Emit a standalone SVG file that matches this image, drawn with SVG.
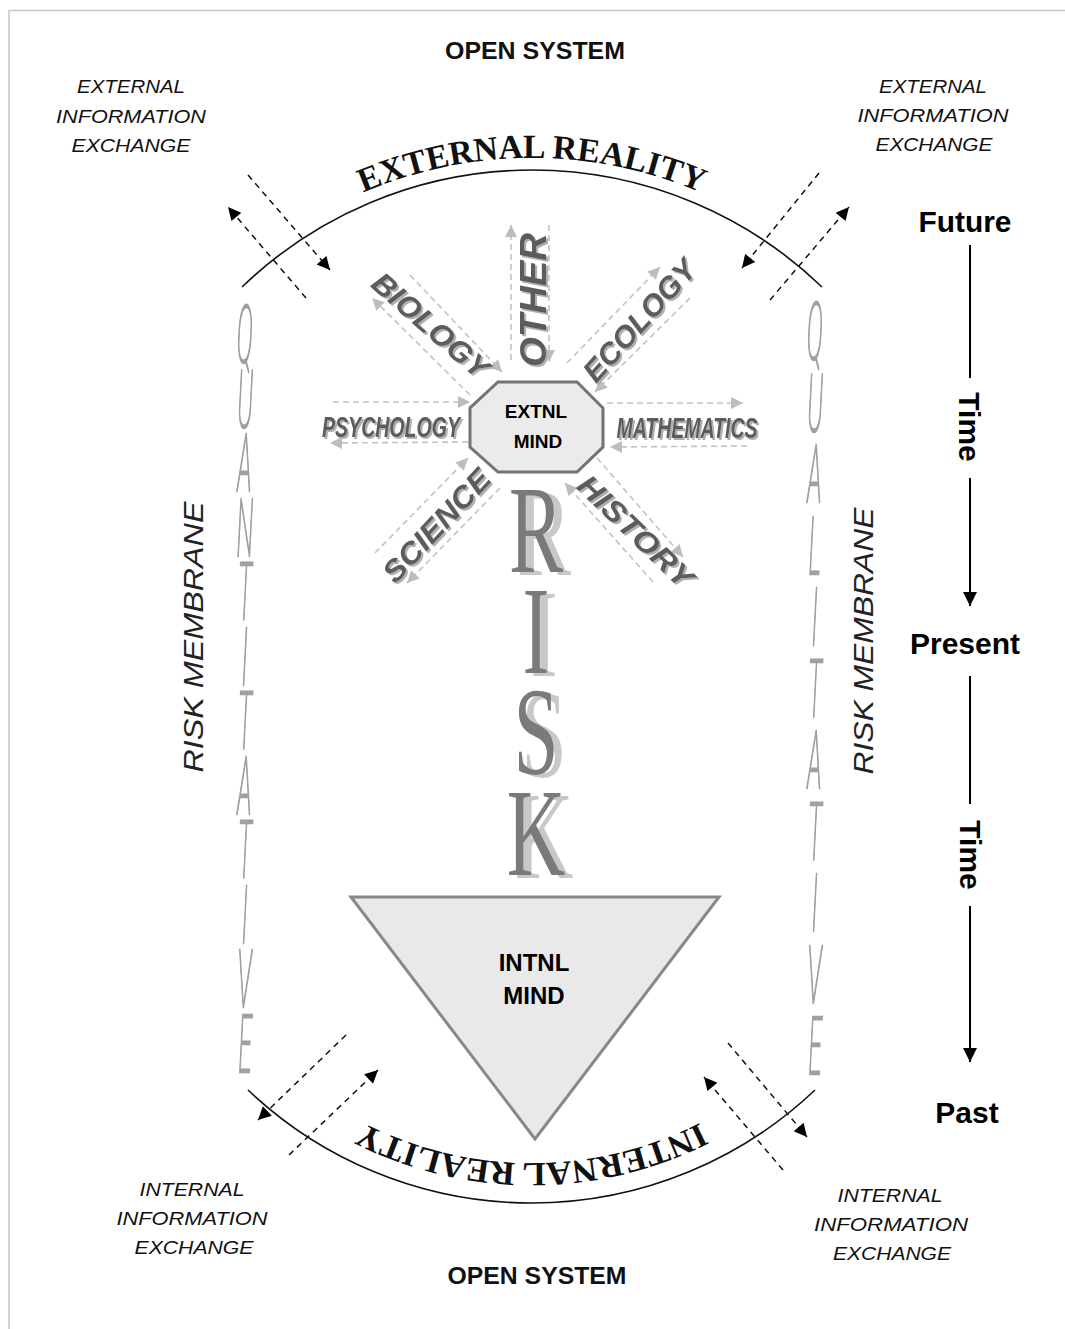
<svg xmlns="http://www.w3.org/2000/svg" width="1065" height="1329" viewBox="0 0 1065 1329">
<defs>
<style>
.os{font-family:"Liberation Sans",Arial,sans-serif;font-weight:bold;font-size:24px;text-anchor:middle;fill:#111}
.ie{font-family:"Liberation Sans",Arial,sans-serif;font-style:italic;font-size:19px;text-anchor:middle;fill:#111}
.rm{font-family:"Liberation Sans",Arial,sans-serif;font-style:italic;font-size:28px;text-anchor:middle;fill:#222}
.real{font-family:"Liberation Serif","Times New Roman",serif;font-weight:bold;font-size:34px;fill:#111}
.q{font-family:Roboto,Inter,"Liberation Sans",sans-serif;font-weight:100;font-style:italic;font-size:80px;fill:#a0a0a0;stroke:#a0a0a0;stroke-width:2;vector-effect:non-scaling-stroke;writing-mode:vertical-rl;text-orientation:upright}
.risk{font-family:"Liberation Serif","Times New Roman",serif;font-size:125px;fill:#7a7a7a;writing-mode:vertical-rl;text-orientation:upright}
.lab{font-family:"Liberation Sans",Arial,sans-serif;font-weight:bold;font-style:italic;text-anchor:middle;fill:#5c5c5c}
.tm{font-family:"Liberation Sans",Arial,sans-serif;font-weight:bold;font-size:30px;text-anchor:middle;fill:#000}
.mind{font-family:"Liberation Sans",Arial,sans-serif;font-weight:bold;text-anchor:middle;fill:#000}
.dk{fill:none;stroke:#111;stroke-width:1.5;stroke-dasharray:6 5}
.gl{fill:none;stroke:#c2c2c2;stroke-width:1.6;stroke-dasharray:6 4}
.arc{fill:none;stroke:#111;stroke-width:1.6}
.ax{stroke:#000;stroke-width:2}
</style>
<marker id="ab" viewBox="0 0 10 10" refX="10" refY="5" markerWidth="16" markerHeight="13" markerUnits="userSpaceOnUse" orient="auto"><path d="M0,0 L10,5 L0,10 z" fill="#000"/></marker>
<marker id="ag" viewBox="0 0 10 10" refX="10" refY="5" markerWidth="14" markerHeight="12" markerUnits="userSpaceOnUse" orient="auto"><path d="M0,0 L10,5 L0,10 z" fill="#bdbdbd"/></marker>
<marker id="at" viewBox="0 0 10 10" refX="10" refY="5" markerWidth="17" markerHeight="14" markerUnits="userSpaceOnUse" orient="auto"><path d="M0,0 L10,5 L0,10 z" fill="#000"/></marker>
<filter id="sh" x="-20%" y="-20%" width="150%" height="150%"><feDropShadow dx="2" dy="2" stdDeviation="0.6" flood-color="#b0b0b0"/></filter>
<filter id="rs" x="-40%" y="-10%" width="200%" height="130%"><feDropShadow dx="8" dy="3" stdDeviation="0.6" flood-color="#c8c8c8"/></filter>
<filter id="bl" x="-50%" y="-5%" width="200%" height="110%"><feGaussianBlur stdDeviation="0.6"/></filter>
<path id="topArc" d="M102,588 A430,430 0 0 1 962,588"/>
<path id="botArc" d="M903.5,791 A372,372 0 0 1 159.5,791"/>
</defs>

<rect x="9" y="10.5" width="1100" height="1400" fill="#fff" stroke="#c4c4c4" stroke-width="1.5"/>

<g id="open-system-top"><text class="os" x="535" y="59" textLength="180" lengthAdjust="spacingAndGlyphs">OPEN SYSTEM</text></g>
<g id="open-system-bottom"><text class="os" x="537" y="1284" textLength="179" lengthAdjust="spacingAndGlyphs">OPEN SYSTEM</text></g>

<g id="ext-info-left">
<text class="ie" x="131" y="93" textLength="108" lengthAdjust="spacingAndGlyphs">EXTERNAL</text>
<text class="ie" x="131" y="123" textLength="150" lengthAdjust="spacingAndGlyphs">INFORMATION</text>
<text class="ie" x="131" y="152" textLength="119" lengthAdjust="spacingAndGlyphs">EXCHANGE</text>
</g>
<g id="ext-info-right">
<text class="ie" x="933" y="93" textLength="108" lengthAdjust="spacingAndGlyphs">EXTERNAL</text>
<text class="ie" x="933" y="122" textLength="151" lengthAdjust="spacingAndGlyphs">INFORMATION</text>
<text class="ie" x="934" y="151" textLength="117" lengthAdjust="spacingAndGlyphs">EXCHANGE</text>
</g>
<g id="int-info-left">
<text class="ie" x="192" y="1196" textLength="105" lengthAdjust="spacingAndGlyphs">INTERNAL</text>
<text class="ie" x="192" y="1225" textLength="151" lengthAdjust="spacingAndGlyphs">INFORMATION</text>
<text class="ie" x="194" y="1254" textLength="119" lengthAdjust="spacingAndGlyphs">EXCHANGE</text>
</g>
<g id="int-info-right">
<text class="ie" x="890" y="1202" textLength="105" lengthAdjust="spacingAndGlyphs">INTERNAL</text>
<text class="ie" x="891" y="1231" textLength="154" lengthAdjust="spacingAndGlyphs">INFORMATION</text>
<text class="ie" x="892" y="1260" textLength="118" lengthAdjust="spacingAndGlyphs">EXCHANGE</text>
</g>

<g id="external-reality">
<path class="arc" d="M242,287 A418,418 0 0 1 822,287"/>
<text class="real"><textPath href="#topArc" startOffset="50%" text-anchor="middle" textLength="347" lengthAdjust="spacingAndGlyphs">EXTERNAL REALITY</textPath></text>
</g>
<g id="internal-reality">
<path class="arc" d="M248,1090 A412,412 0 0 0 815,1090"/>
<text class="real"><textPath href="#botArc" startOffset="50%" text-anchor="middle" textLength="350" lengthAdjust="spacingAndGlyphs">INTERNAL REALITY</textPath></text>
</g>

<g id="quantitative" filter="url(#bl)">
<text class="q" transform="translate(245,0) scale(0.3,1)" x="0" y="288" letter-spacing="-29">QUANTITATIVE</text>
</g>
<g id="qualitative" filter="url(#bl)">
<text class="q" transform="translate(815,0) scale(0.3,1)" x="0" y="285" letter-spacing="-22">QUALITATIVE</text>
</g>

<g id="risk-membrane-left"><text class="rm" transform="translate(203,637) rotate(-90)" textLength="271" lengthAdjust="spacingAndGlyphs">RISK MEMBRANE</text></g>
<g id="risk-membrane-right"><text class="rm" transform="translate(873,641) rotate(-90)" textLength="267" lengthAdjust="spacingAndGlyphs">RISK MEMBRANE</text></g>

<g id="risk" filter="url(#rs)">
<text class="risk" transform="translate(536,0) scale(0.65,1)" x="0" y="461" letter-spacing="-38">RISK</text>
</g>

<g id="connectors">
<line class="dk" x1="248" y1="175" x2="330" y2="270" marker-end="url(#ab)"/>
<line class="dk" x1="306" y1="298" x2="228" y2="207" marker-end="url(#ab)"/>
<line class="dk" x1="819" y1="173" x2="742" y2="268" marker-end="url(#ab)"/>
<line class="dk" x1="770" y1="300" x2="849" y2="207" marker-end="url(#ab)"/>
<line class="dk" x1="346" y1="1035" x2="258" y2="1120" marker-end="url(#ab)"/>
<line class="dk" x1="289" y1="1155" x2="378" y2="1070" marker-end="url(#ab)"/>
<line class="dk" x1="728" y1="1043" x2="807" y2="1137" marker-end="url(#ab)"/>
<line class="dk" x1="783" y1="1170" x2="704" y2="1077" marker-end="url(#ab)"/>

<line class="gl" x1="511" y1="360" x2="511" y2="225" marker-end="url(#ag)"/>
<line class="gl" x1="549" y1="225" x2="549" y2="362" marker-end="url(#ag)"/>
<line class="gl" x1="470" y1="395" x2="372" y2="298" marker-end="url(#ag)"/>
<line class="gl" x1="410" y1="275" x2="502" y2="372" marker-end="url(#ag)"/>
<line class="gl" x1="567" y1="363" x2="660" y2="267" marker-end="url(#ag)"/>
<line class="gl" x1="690" y1="298" x2="595" y2="392" marker-end="url(#ag)"/>
<line class="gl" x1="333" y1="402" x2="470" y2="402" marker-end="url(#ag)"/>
<line class="gl" x1="468" y1="442" x2="330" y2="443" marker-end="url(#ag)"/>
<line class="gl" x1="607" y1="403" x2="743" y2="403" marker-end="url(#ag)"/>
<line class="gl" x1="747" y1="446" x2="610" y2="447" marker-end="url(#ag)"/>
<line class="gl" x1="375" y1="553" x2="468" y2="458" marker-end="url(#ag)"/>
<line class="gl" x1="500" y1="488" x2="407" y2="583" marker-end="url(#ag)"/>
<line class="gl" x1="653" y1="582" x2="565" y2="483" marker-end="url(#ag)"/>
<line class="gl" x1="597" y1="458" x2="683" y2="557" marker-end="url(#ag)"/>

<line class="ax" x1="970" y1="245" x2="970" y2="378"/>
<line class="ax" x1="970" y1="478" x2="970" y2="606" marker-end="url(#at)"/>
<line class="ax" x1="970" y1="676" x2="970" y2="804"/>
<line class="ax" x1="970" y1="906" x2="970" y2="1062" marker-end="url(#at)"/>
</g>

<g id="label-other" filter="url(#sh)"><text class="lab" font-size="36" transform="translate(533,300) rotate(-90)" y="13" textLength="134" lengthAdjust="spacingAndGlyphs">OTHER</text></g>
<g id="label-biology" filter="url(#sh)"><text class="lab" font-size="30" transform="translate(431,325) rotate(41)" y="11" textLength="144" lengthAdjust="spacingAndGlyphs">BIOLOGY</text></g>
<g id="label-ecology" filter="url(#sh)"><text class="lab" font-size="30" transform="translate(639,320) rotate(-48)" y="11" textLength="153" lengthAdjust="spacingAndGlyphs">ECOLOGY</text></g>
<g id="label-psychology" filter="url(#sh)"><text class="lab" font-size="29" transform="translate(391,426)" y="11" textLength="138" lengthAdjust="spacingAndGlyphs">PSYCHOLOGY</text></g>
<g id="label-mathematics" filter="url(#sh)"><text class="lab" font-size="29" transform="translate(687,427)" y="11" textLength="141" lengthAdjust="spacingAndGlyphs">MATHEMATICS</text></g>
<g id="label-science" filter="url(#sh)"><text class="lab" font-size="30" transform="translate(436,525) rotate(-47)" y="11" textLength="143" lengthAdjust="spacingAndGlyphs">SCIENCE</text></g>
<g id="label-history" filter="url(#sh)"><text class="lab" font-size="30" transform="translate(636,531) rotate(44)" y="11" textLength="148" lengthAdjust="spacingAndGlyphs">HISTORY</text></g>

<g id="extnl-mind">
<polygon points="498,382 577,382 603,408 603,447 577,472 498,472 470,447 470,408" fill="#ebebeb" stroke="#737373" stroke-width="3"/>
<text class="mind" font-size="19" x="536" y="418">EXTNL</text>
<text class="mind" font-size="19" x="538" y="448">MIND</text>
</g>

<g id="intnl-mind">
<polygon points="351,897 719,897 535,1139" fill="#e9e9e9" stroke="#888" stroke-width="3"/>
<text class="mind" font-size="24" x="534" y="971">INTNL</text>
<text class="mind" font-size="24" x="534" y="1004">MIND</text>
</g>

<g id="time-axis">
<text class="tm" x="965" y="232" textLength="93" lengthAdjust="spacingAndGlyphs">Future</text>
<text class="tm" transform="translate(959,427) rotate(90)">Time</text>
<text class="tm" x="965" y="654">Present</text>
<text class="tm" transform="translate(960,855) rotate(90)">Time</text>
<text class="tm" x="967" y="1123">Past</text>
</g>
</svg>
